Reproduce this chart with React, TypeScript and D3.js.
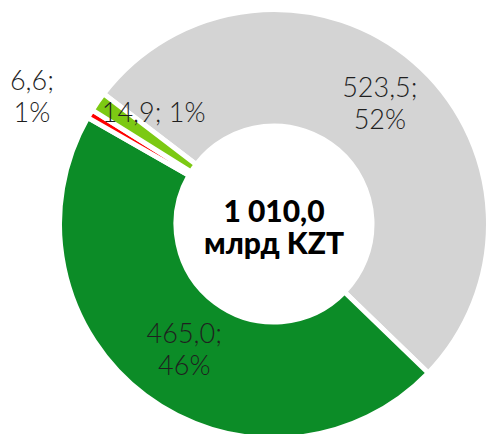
import React from "react";
import * as d3 from "d3";

const categories = ["Прочие", "Основные", "Красные", "Светлые"];
const values = [523.5, 465.0, 6.6, 14.9];
const labelTexts = [["523,5;", "52%"], ["465,0;", "46%"], ["6,6;", "1%"], ["14,9; 1%"]];
const colors = ["#d4d4d4", "#0c8c27", "#ff0000", "#7cc913"];
const totalLines = ["1 010,0", "млрд KZT"];

const W = 488;
const H = 434;
const cx = 274;
const cy = 224;
const outerR = 214.5;
const innerR = 98;
const startDeg = -52.6;
// label offsets relative to arc centroid (layout only)
const labelOffsets = [
  [4, -2],
  [4, 1],
  [-108, -47],
  [8, -22],
];

export default function App() {
  const pie = d3
    .pie<number>()
    .sort(null)
    .value((d) => d)
    .startAngle((startDeg * Math.PI) / 180)
    .endAngle((startDeg * Math.PI) / 180 + 2 * Math.PI);
  const arcs = pie(values);
  const arc = d3.arc<d3.PieArcDatum<number>>().innerRadius(innerR).outerRadius(outerR);
  const lineH = 32;
  return (
    <div style={{ position: "fixed", left: 0, top: 0 }}>
      <svg width={W} height={H} style={{ display: "block", background: "#fff" }}>
        <g transform={`translate(${cx},${cy})`}>
          {arcs.map((a, i) => (
            <path key={categories[i]} d={arc(a) || ""} fill={colors[i]} stroke="#fff" strokeWidth={5} strokeLinejoin="miter" />
          ))}
          {arcs.map((a, i) => {
            const [x, y] = arc.centroid(a);
            const lines = labelTexts[i];
            const tx = x + labelOffsets[i][0];
            const ty = y + labelOffsets[i][1];
            const y0 = ty - ((lines.length - 1) * lineH) / 2;
            return (
              <text
                key={"l" + i}
                textAnchor="middle"
                fontFamily="Lato"
                fontWeight={300}
                fontSize={27}
                fill="#1f1f1f"
              >
                {lines.map((t, j) => (
                  <tspan key={j} x={tx} y={y0 + j * lineH} dy="0.35em">
                    {t}
                  </tspan>
                ))}
              </text>
            );
          })}
          <text textAnchor="middle" fontFamily="Lato" fontWeight={900} fontSize={30} fill="#000">
            {totalLines.map((t, j) => (
              <tspan key={j} x={0} y={-13 + j * 32} dy="0.35em">
                {t}
              </tspan>
            ))}
          </text>
        </g>
      </svg>
    </div>
  );
}
